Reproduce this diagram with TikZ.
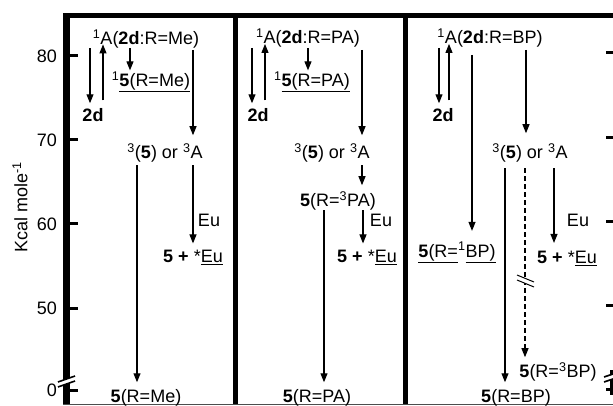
\documentclass[tikz,border=0pt]{standalone}
\usepackage{fontspec}
\setmainfont{Liberation Sans}
\usetikzlibrary{arrows.meta}

\begin{document}
\begin{tikzpicture}[x=1pt,y=-1pt,
        every node/.style={inner sep=0pt,font=\fontsize{18}{20}\selectfont},
        lbl/.style={anchor=base},
        arr/.style={line width=1.1pt,-{Triangle[length=9pt,width=7pt]}},
        dasharr/.style={arr,dash pattern=on 5pt off 3pt},
        tick/.style={line width=3pt}
    ]
    \useasboundingbox (0,0) rectangle (613,406);
    % frame
        \draw[line width=5pt] (63,16) -- (613,16);
        \draw[line width=7pt] (66.5,13.5) -- (66.5,404.5);
        \draw[line width=5pt] (235.5,16) -- (235.5,404.5);
        \draw[line width=5pt] (405.5,16) -- (405.5,404.5);
        \draw[line width=1.2pt, black!70] (63,404.5) -- (613,404.5);
    % ticks
        \foreach \y/\t in {56/80,140/70,224/60,308/50,390/0}{
            \draw[tick] (70,\y) -- (78,\y);
            \node[anchor=east] (tk\t) at (57,\y) {\t};
        }
        \foreach \y in {53,138,222,305,389}{
            \draw[tick] (606,\y) -- (613,\y);
        }
        \draw[line width=3pt] (611.5,370) -- (611.5,395);
    % axis breaks
        \fill[white] (58,382) -- (75,376) -- (75,381) -- (58,387) -- cycle;
        \draw[line width=1.6pt] (58,382) -- (75,376);
        \draw[line width=1.6pt] (58,387) -- (75,381);
        \fill[white] (604,377) -- (613,374) -- (613,379) -- (604,382) -- cycle;
        \draw[line width=1.6pt] (604,377) -- (613,374);
        \draw[line width=1.6pt] (604,382) -- (613,379);
        \node[rotate=90] (ylab) at (20,207) {Kcal mole\textsuperscript{-1}};

    % R = Me
        \node[lbl] (A1) at (146,44.5) {\textsuperscript{1}A(\textbf{2d}:R=Me)};
        \node[lbl] (d1) at (93,121.5) {\textbf{2d}};
        \node[lbl] (S1) at (151,86.5) {\textsuperscript{1}\underline{\textbf{5}(R=Me)}};
        \node[lbl] (T1) at (165,158.5) {\textsuperscript{3}(\textbf{5}) or \textsuperscript{3}A};
        \node[lbl] (L1) at (209,226.5) {Eu};
        \node[lbl] (E1) at (193,262.5) {\textbf{5 +} *\underline{Eu}};
        \node[lbl] (P1) at (146,402.5) {\textbf{5}(R=Me)};
        \draw[arr] ([xshift=-56pt]A1.south) -- ([xshift=-3pt,yshift=5pt]d1.north);
        \draw[arr] ([xshift=10pt,yshift=8pt]d1.north) -- ([xshift=-43pt,yshift=4pt]A1.south);
        \draw[arr] ([xshift=-16pt]A1.south) -- ([xshift=-21pt,yshift=1pt]S1.north);
        \draw[arr] ([xshift=47pt,yshift=-2pt]A1.south) -- ([xshift=28pt,yshift=8pt]T1.north);
        \draw[arr] ([xshift=-28pt,yshift=-3pt]T1.south) -- ([xshift=-9pt,yshift=7pt]P1.north);
        \draw[arr] ([xshift=28pt,yshift=-3pt]T1.south) -- ([yshift=6.5pt]E1.north);

    % R = PA
        \node[lbl] (A2) at (308,44) {\textsuperscript{1}A(\textbf{2d}:R=PA)};
        \node[lbl] (d2) at (258,121.5) {\textbf{2d}};
        \node[lbl] (S2) at (312,86.5) {\textsuperscript{1}\underline{\textbf{5}(R=PA)}};
        \node[lbl] (T2) at (332,158.5) {\textsuperscript{3}(\textbf{5}) or \textsuperscript{3}A};
        \node[lbl] (Q2) at (338,206.5) {\textbf{5}(R=\textsuperscript{3}PA)};
        \node[lbl] (L2) at (381,226.5) {Eu};
        \node[lbl] (E2) at (367,262.5) {\textbf{5 +} *\underline{Eu}};
        \node[lbl] (P2) at (317,402.5) {\textbf{5}(R=PA)};
        \draw[arr] ([xshift=-56pt]A2.south) -- ([xshift=-6pt,yshift=5pt]d2.north);
        \draw[arr] ([xshift=7pt,yshift=8pt]d2.north) -- ([xshift=-43pt,yshift=4pt]A2.south);
        \draw[arr] (A2.south) -- ([xshift=-4pt,yshift=1pt]S2.north);
        \draw[arr] ([xshift=54pt,yshift=-2pt]A2.south) -- ([xshift=30pt,yshift=8pt]T2.north);
        \draw[arr] ([xshift=30pt,yshift=-3pt]T2.south) -- ([xshift=24pt,yshift=6pt]Q2.north);
        \draw[arr] ([xshift=-14pt]Q2.south) -- ([xshift=7pt,yshift=7pt]P2.north);
        \draw[arr] ([xshift=25pt]Q2.south) -- ([xshift=-4pt,yshift=6.5pt]E2.north);

    % R = BP
        \node[lbl] (A3) at (490,44) {\textsuperscript{1}A(\textbf{2d}:R=BP)};
        \node[lbl] (d3) at (443,121.5) {\textbf{2d}};
        \node[lbl] (T3) at (530,158.5) {\textsuperscript{3}(\textbf{5}) or \textsuperscript{3}A};
        \node[lbl] (Q3) at (457,257) {\underline{\textbf{5}(R=}\textsuperscript{1}\underline{BP)}};
        \node[lbl] (L3) at (578,226.5) {Eu};
        \node[lbl] (E3) at (567,263.5) {\textbf{5 +} *\underline{Eu}};
        \node[lbl] (R3) at (558,377.5) {\textbf{5}(R=\textsuperscript{3}BP)};
        \node[lbl] (P3) at (516,402.5) {\textbf{5}(R=BP)};
        \draw[arr] ([xshift=-51pt]A3.south) -- ([xshift=-4pt,yshift=5pt]d3.north);
        \draw[arr] ([xshift=6pt,yshift=8pt]d3.north) -- ([xshift=-41pt,yshift=4pt]A3.south);
        \draw[arr] ([xshift=-18pt,yshift=-7pt]A3.south) -- ([xshift=15pt,yshift=11pt]Q3.north);
        \draw[arr] ([xshift=36pt,yshift=-2pt]A3.south) -- ([xshift=-4pt,yshift=10pt]T3.north);
        \draw[arr] ([xshift=-25pt,yshift=-6pt]T3.south) -- ([xshift=-11pt,yshift=7pt]P3.north);
        \draw[dasharr] ([xshift=-5pt,yshift=-6pt]T3.south) -- ([xshift=-33pt,yshift=5pt]R3.north);
        \draw[arr] ([xshift=24pt,yshift=-6pt]T3.south) -- ([xshift=-13pt,yshift=8pt]E3.north);
        % break on the dashed path
        \fill[white] (517,275) -- (534,282) -- (534,287) -- (517,280) -- cycle;
        \draw[line width=1pt] (517,275) -- (534,282);
        \draw[line width=1pt] (517,280) -- (534,287);
    \end{tikzpicture}
\end{document}
